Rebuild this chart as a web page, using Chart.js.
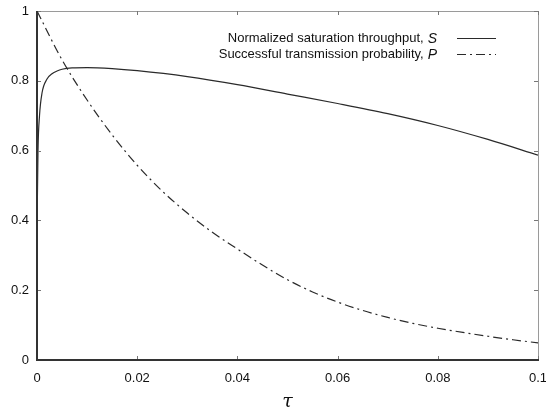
<!DOCTYPE html>
<html>
<head>
<meta charset="utf-8">
<script src="https://cdn.jsdelivr.net/npm/chart.js@4"></script>
<style>
  html,body{margin:0;padding:0;background:#fff;}
  #wrap{width:546px;height:409px;position:relative;}
</style>
</head>
<body>
<div id="wrap"><canvas id="c" width="546" height="409"></canvas></div>
<script>
// Normalized saturation throughput S
const sTau = [0, 0.0002, 0.0005, 0.001, 0.002, 0.003, 0.004, 0.005, 0.007, 0.01, 0.015, 0.02, 0.03, 0.04, 0.05, 0.06, 0.07, 0.08, 0.09, 0.1];
const sVal = [0.37, 0.60, 0.70, 0.765, 0.805, 0.82, 0.828, 0.833, 0.837, 0.838, 0.835, 0.829, 0.812, 0.789, 0.762, 0.735, 0.706, 0.672, 0.632, 0.587];
// Successful transmission probability P
const pTau = [0, 0.005, 0.01, 0.015, 0.02, 0.025, 0.03, 0.035, 0.04, 0.045, 0.05, 0.055, 0.06, 0.065, 0.07, 0.075, 0.08, 0.085, 0.09, 0.095, 0.1];
const pVal = [1.0, 0.86, 0.745, 0.645, 0.558, 0.484, 0.421, 0.366, 0.318, 0.272, 0.23, 0.195, 0.166, 0.142, 0.122, 0.105, 0.091, 0.079, 0.068, 0.058, 0.049];
const xTicks = [0, 0.02, 0.04, 0.06, 0.08, 0.1];
const xTickLabels = ['0', '0.02', '0.04', '0.06', '0.08', '0.1'];
const yTicks = [0, 0.2, 0.4, 0.6, 0.8, 1];
const yTickLabels = ['0', '0.2', '0.4', '0.6', '0.8', '1'];
const legendLabels = ['Normalized saturation throughput, ', 'Successful transmission probability, '];
const legendSymbols = ['S', 'P'];
const axisTitle = 'τ';

const FONT = '"Liberation Sans", Arial, sans-serif';
const lineColor = '#2a2a2a';
const pDash = [9, 4, 2, 4];

const framePlugin = {
  id: 'frame',
  afterDraw(chart) {
    const {ctx, chartArea: a, scales: {x, y}} = chart;
    ctx.save();
    ctx.strokeStyle = '#9a9a9a';
    ctx.lineWidth = 1;
    ctx.beginPath();
    ctx.moveTo(a.left, a.top + 0.5); ctx.lineTo(a.right + 0.5, a.top + 0.5);
    ctx.lineTo(a.right + 0.5, a.bottom);
    ctx.stroke();
    ctx.strokeStyle = '#777';
    ctx.beginPath();
    xTicks.forEach(v => {
      const px = Math.round(x.getPixelForValue(v)) + 0.5;
      ctx.moveTo(px, a.bottom); ctx.lineTo(px, a.bottom - 4);
      ctx.moveTo(px, a.top); ctx.lineTo(px, a.top + 4);
    });
    yTicks.forEach(v => {
      const py = Math.round(y.getPixelForValue(v)) + 0.5;
      ctx.moveTo(a.left, py); ctx.lineTo(a.left + 4, py);
      ctx.moveTo(a.right, py); ctx.lineTo(a.right - 4, py);
    });
    ctx.stroke();
    ctx.strokeStyle = '#333';
    ctx.lineWidth = 2;
    ctx.beginPath();
    ctx.moveTo(a.left, a.top); ctx.lineTo(a.left, a.bottom); ctx.lineTo(a.right + 1, a.bottom);
    ctx.stroke();

    // legend
    const rowsY = [38, 54];
    const textRight = 437;
    legendLabels.forEach((lab, i) => {
      const yy = rowsY[i];
      ctx.textBaseline = 'middle';
      ctx.fillStyle = '#111';
      ctx.font = 'italic 14px ' + FONT;
      ctx.textAlign = 'right';
      const sw = ctx.measureText(legendSymbols[i]).width;
      ctx.fillText(legendSymbols[i], textRight, yy + 1);
      ctx.font = '13px ' + FONT;
      ctx.fillText(lab.trimEnd(), textRight - sw - 4, yy);
      ctx.strokeStyle = lineColor;
      ctx.lineWidth = 1.2;
      ctx.setLineDash(i === 0 ? [] : pDash);
      ctx.beginPath();
      ctx.moveTo(457, yy + 0.5); ctx.lineTo(496, yy + 0.5);
      ctx.stroke();
      ctx.setLineDash([]);
    });
    ctx.restore();
  }
};

new Chart(document.getElementById('c'), {
  type: 'line',
  data: {
    datasets: [
      {
        label: legendLabels[0] + legendSymbols[0],
        data: sTau.map((t, i) => ({x: t, y: sVal[i]})),
        borderColor: lineColor, borderWidth: 1.2, pointRadius: 0,
        cubicInterpolationMode: 'monotone', fill: false
      },
      {
        label: legendLabels[1] + legendSymbols[1],
        data: pTau.map((t, i) => ({x: t, y: pVal[i]})),
        borderColor: lineColor, borderWidth: 1.2, pointRadius: 0, borderDash: pDash,
        cubicInterpolationMode: 'monotone', fill: false
      }
    ]
  },
  options: {
    responsive: false,
    animation: false,
    layout: {padding: {top: 11, right: 8, left: 0, bottom: 0}},
    plugins: {legend: {display: false}, tooltip: {enabled: false}},
    scales: {
      x: {
        type: 'linear', min: 0, max: 0.1,
        afterBuildTicks(s) { s.ticks = xTicks.map(v => ({value: v})); },
        afterFit(s) { s.height = 49; s.paddingLeft = 0; s.paddingRight = 0; },
        grid: {display: false, drawTicks: false},
        border: {display: false},
        ticks: {
          padding: 11, color: '#111', font: {family: FONT, size: 13},
          maxRotation: 0, autoSkip: false,
          callback: (v) => { const k = xTicks.findIndex(t => Math.abs(t - v) < 1e-9); return k >= 0 ? xTickLabels[k] : ''; }
        },
        title: {display: true, text: axisTitle, color: '#111',
          font: {family: '"DejaVu Serif", "Liberation Serif", serif', size: 19, style: 'italic'},
          padding: {top: 4, bottom: -4}}
      },
      y: {
        type: 'linear', min: 0, max: 1,
        afterBuildTicks(s) { s.ticks = yTicks.map(v => ({value: v})); },
        afterFit(s) { s.width = 37; s.paddingTop = 0; s.paddingBottom = 0; },
        grid: {display: false, drawTicks: false},
        border: {display: false},
        ticks: {
          padding: 8, color: '#111', font: {family: FONT, size: 13},
          callback: (v) => { const k = yTicks.findIndex(t => Math.abs(t - v) < 1e-9); return k >= 0 ? yTickLabels[k] : ''; }
        }
      }
    }
  },
  plugins: [framePlugin]
});
</script>
</body>
</html>
